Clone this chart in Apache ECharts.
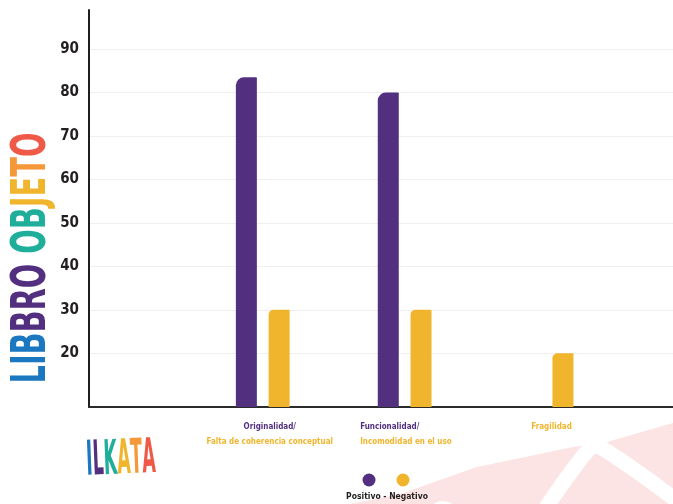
<!DOCTYPE html>
<html><head><meta charset="utf-8">
<script src="https://cdn.jsdelivr.net/npm/echarts@6/dist/echarts.min.js"></script>
<style>html,body{margin:0;padding:0;background:#fff}#c{width:673px;height:504px}</style>
</head><body><div id="c"></div>
<script>
// ---- data ----
const categories = ['Originalidad', 'Funcionalidad', 'Fragilidad'];
const positiveLabels = ['Originalidad/', 'Funcionalidad/', ''];
const negativeLabels = ['Falta de coherencia conceptual', 'Incomodidad en el uso', 'Fragilidad'];
const positiveValues = [83.5, 80, 0];
const negativeValues = [30, 30, 20];
const yTicks = [20, 30, 40, 50, 60, 70, 80, 90];
const seriesNames = ['Positivo', 'Negativo'];
const legendText = 'Positivo - Negativo';
const titleParts = ['LIB', 'BRO', ' ', 'OB', 'JE', 'T', 'O'];
const logoParts = ['I', 'L', 'K', 'A', 'T', 'A'];

// ---- styles ----
const PURPLE = '#53307f';
const YELLOW = '#f0b52d';
const NARROW = '"Liberation Sans Narrow", "DejaVu Sans Condensed", sans-serif';
const titleColors = ['#1b77c0', '#53307f', '#fff', '#1fae9a', '#f0b52d', '#f4983a', '#ef5a48'];
const logoColors = ['#1b77c0', '#53307f', '#1fae9a', '#f0b52d', '#f4983a', '#ef5a48'];
const labelWidths = [116, 89, 36];
const labelSpacer = [14, 0, 10];
const Y_MIN = 7.65, Y_MAX = 99;

const rich = {};
labelWidths.forEach((w, i) => {
  rich['p' + i] = { color: PURPLE, fontSize: 8, fontWeight: 'bold', fontFamily: NARROW, lineHeight: 15, width: w, align: 'left' };
  rich['n' + i] = { color: YELLOW, fontSize: 8, fontWeight: 'bold', fontFamily: NARROW, lineHeight: 15, width: w, align: 'left' };
  rich['s' + i] = { fontSize: 8, lineHeight: 15, width: labelSpacer[i] };
});

const titleRich = {};
titleParts.forEach((t, i) => { titleRich['t' + i] = { fill: titleColors[i], fontSize: 48, fontWeight: 'bold', fontFamily: NARROW }; });
const logoRich = {};
logoParts.forEach((t, i) => { logoRich['l' + i] = { fill: logoColors[i], fontSize: 48, fontWeight: 'bold', fontFamily: NARROW }; });

const chart = echarts.init(document.getElementById('c'), null, { renderer: 'canvas' });
chart.setOption({
  animation: false,
  backgroundColor: '#fff',
  grid: [
    { left: 89, right: 0, top: 10, bottom: 97, containLabel: false },
    { left: 191.8, right: 55.5, top: 10, bottom: 97, containLabel: false }
  ],
  xAxis: [
    { type: 'category', gridIndex: 0, data: [''],
      axisLine: { show: true, lineStyle: { color: '#2b2b2b', width: 2 } },
      axisTick: { show: false }, axisLabel: { show: false }, splitLine: { show: false } },
    { type: 'category', gridIndex: 1, data: categories,
      axisLine: { show: false }, axisTick: { show: false }, splitLine: { show: false },
      axisLabel: {
        interval: 0, margin: 12,
        formatter: (v, i) => {
          const sp = labelSpacer[i] ? '{s' + i + '| }' : '';
          if (positiveLabels[i]) {
            return sp + '{p' + i + '|' + positiveLabels[i] + '}\n' + sp + '{n' + i + '|' + negativeLabels[i] + '}';
          }
          return sp + '{n' + i + '|' + negativeLabels[i] + '}';
        },
        rich: rich
      } }
  ],
  yAxis: [
    { type: 'value', gridIndex: 0, min: Y_MIN, max: Y_MAX,
      axisLine: { show: true, lineStyle: { color: '#1f1f1f', width: 2 } },
      axisTick: { show: false, customValues: yTicks },
      axisLabel: { customValues: yTicks, margin: 10, color: '#231f20', fontSize: 15, fontWeight: 'bold', fontFamily: NARROW },
      splitLine: { show: true, lineStyle: { color: '#efefef', width: 1 } } },
    { type: 'value', gridIndex: 1, min: Y_MIN, max: Y_MAX, show: false, splitLine: { show: false } }
  ],
  legend: {
    data: seriesNames, icon: 'circle', itemWidth: 13, itemHeight: 13,
    left: 357.5, top: 468.5, itemGap: 21, formatter: () => '',
    selectedMode: false
  },
  series: [
    { name: seriesNames[0], type: 'bar', xAxisIndex: 1, yAxisIndex: 1, data: positiveValues,
      barWidth: 21, barGap: '56%', itemStyle: { color: PURPLE, borderRadius: [8, 1, 0, 0] } },
    { name: seriesNames[1], type: 'bar', xAxisIndex: 1, yAxisIndex: 1, data: negativeValues,
      barWidth: 21, barGap: '56%', itemStyle: { color: YELLOW, borderRadius: [5, 1, 0, 0] } }
  ],
  graphic: [
    { type: 'polygon', z: -10, silent: true,
      shape: { points: [[350, 504], [400, 494], [477, 467], [573, 447], [607, 442], [673, 423], [673, 504]] },
      style: { fill: '#fce4e4' } },
    { type: 'polyline', z: -9, silent: true,
      shape: { points: [[543, 512], [589, 449], [600, 447], [676, 500]], smooth: 0.3 },
      style: { stroke: '#fff', lineWidth: 15, fill: null } },
    { type: 'circle', z: -9, silent: true, shape: { cx: 443, cy: 517, r: 16 }, style: { fill: '#fff' } },
    { type: 'text', x: 32.5, y: 258, rotation: Math.PI / 2, scaleX: 0.668, silent: true,
      style: { text: titleParts.map((t, i) => '{t' + i + '|' + t + '}').join(''), rich: titleRich, align: 'center', verticalAlign: 'middle' } },
    { type: 'text', x: 121, y: 461, rotation: 0.04, scaleX: 0.4, silent: true,
      style: { text: logoParts.map((t, i) => '{l' + i + '|' + t + '}').join(''), rich: logoRich, align: 'center', verticalAlign: 'middle' } },
    { type: 'text', x: 387, y: 497, silent: true,
      style: { text: legendText, fill: '#231f20', fontSize: 8.5, fontWeight: 'bold', fontFamily: NARROW, align: 'center', verticalAlign: 'middle' } }
  ]
});
</script></body></html>
